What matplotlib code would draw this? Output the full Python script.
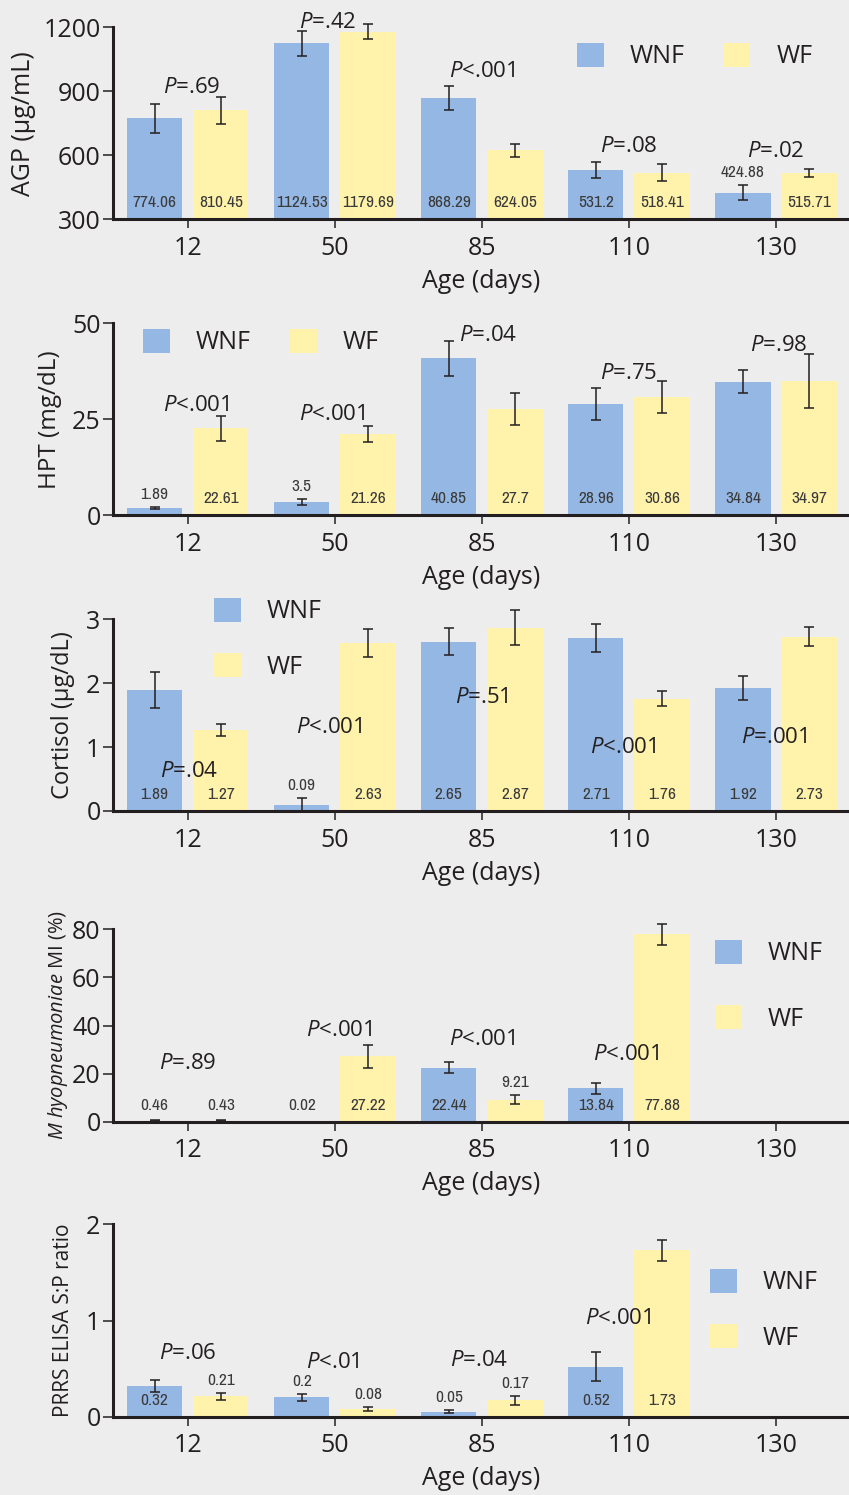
import matplotlib
matplotlib.use('Agg')
import matplotlib.pyplot as plt
from matplotlib.patches import Patch
from matplotlib import font_manager
import numpy as np

nan = np.nan

# ---------------- data ----------------
ages = ['12', '50', '85', '110', '130']
series_names = ['WNF', 'WF']

agp_wnf = [774.06, 1124.53, 868.29, 531.2, 424.88]
agp_wf = [810.45, 1179.69, 624.05, 518.41, 515.71]
agp_wnf_se = [68, 57, 55, 37, 35]
agp_wf_se = [62, 34, 31, 39, 19]
agp_p = ['=.69', '=.42', '<.001', '=.08', '=.02']

hpt_wnf = [1.89, 3.5, 40.85, 28.96, 34.84]
hpt_wf = [22.61, 21.26, 27.7, 30.86, 34.97]
hpt_wnf_se = [0.3, 0.8, 4.45, 4.1, 3.1]
hpt_wf_se = [3.25, 2.1, 4.2, 4.2, 7.1]
hpt_p = ['<.001', '<.001', '=.04', '=.75', '=.98']

cort_wnf = [1.89, 0.09, 2.65, 2.71, 1.92]
cort_wf = [1.27, 2.63, 2.87, 1.76, 2.73]
cort_wnf_se = [0.28, 0.11, 0.21, 0.22, 0.19]
cort_wf_se = [0.09, 0.22, 0.27, 0.12, 0.15]
cort_p = ['=.04', '<.001', '=.51', '<.001', '=.001']

mhyo_wnf = [0.46, 0.02, 22.44, 13.84, nan]
mhyo_wf = [0.43, 27.22, 9.21, 77.88, nan]
mhyo_wnf_se = [0.2, 0.0, 2.35, 2.35, nan]
mhyo_wf_se = [0.2, 4.7, 2.0, 4.5, nan]
mhyo_p = ['=.89', '<.001', '<.001', '<.001', None]

prrs_wnf = [0.32, 0.2, 0.05, 0.52, nan]
prrs_wf = [0.21, 0.08, 0.17, 1.73, nan]
prrs_wnf_se = [0.06, 0.035, 0.015, 0.15, nan]
prrs_wf_se = [0.035, 0.02, 0.05, 0.11, nan]
prrs_p = ['=.06', '<.01', '=.04', '<.001', None]

# ---------------- style ----------------
BG = '#ededed'
BLUE = '#95b7e3'
YELLOW = '#fff2aa'
INK = '#231f20'
VAL_INK = '#3a3a3a'

plt.rcParams['font.family'] = ['Open Sans', 'DejaVu Sans']
plt.rcParams['mathtext.fontset'] = 'custom'
plt.rcParams['mathtext.rm'] = 'Open Sans'
plt.rcParams['mathtext.it'] = 'Open Sans:italic'

# condensed font for the value labels, if one is installed
VAL_PROPS = dict(family=['Roboto', 'DejaVu Sans'], fontsize=11)
_fonts = font_manager.fontManager.ttflist
_narrow = [f for f in _fonts if ('Narrow' in f.name or 'Condensed' in f.name)
           and f.style == 'normal' and f.weight in (400, 'normal', 'regular')]
_cond = [f for f in _fonts if f.stretch in ('condensed', 'semi-condensed')
         and f.style == 'normal' and f.weight in (400, 'normal', 'regular')]
if _narrow:
    VAL_PROPS = dict(fontproperties=font_manager.FontProperties(fname=_narrow[0].fname, size=12.5))
elif _cond:
    VAL_PROPS = dict(fontproperties=font_manager.FontProperties(fname=_cond[0].fname, size=12.5))

W, H = 849, 1495
fig = plt.figure(figsize=(W / 100, H / 100), dpi=100, facecolor=BG)

AX_LEFT = 113.3

panels = [
    dict(wnf=agp_wnf, wf=agp_wf, wnf_se=agp_wnf_se, wf_se=agp_wf_se, p=agp_p,
         ylabel='AGP (μg/mL)', ylabel_size=18, ylabel_x=23,
         ylim=(300, 1200), yticks=[300, 600, 900, 1200],
         top=27.3, bottom=219.3,
         p_pos=[(0.03, 919), (-0.05, 1222), (0.0, 994), (0.0, 639), (0.0, 616)],
         leg=dict(ncol=2, ul=(576.7, 43), spacing=1.16)),
    dict(wnf=hpt_wnf, wf=hpt_wf, wnf_se=hpt_wnf_se, wf_se=hpt_wf_se, p=hpt_p,
         ylabel='HPT (mg/dL)', ylabel_size=17.5, ylabel_x=50,
         ylim=(0, 50), yticks=[0, 25, 50],
         top=323.3, bottom=515.3,
         p_pos=[(0.055, 28.5), (-0.02, 26.2), (0.04, 46.9), (0.0, 36.8), (0.02, 44.1)],
         leg=dict(ncol=2, ul=(143, 329), spacing=1.16)),
    dict(wnf=cort_wnf, wf=cort_wf, wnf_se=cort_wnf_se, wf_se=cort_wf_se, p=cort_p,
         ylabel='Cortisol (μg/dL)', ylabel_size=17, ylabel_x=63,
         ylim=(0, 3), yticks=[0, 1, 2, 3],
         top=619.3, bottom=811.0,
         p_pos=[(0.01, 0.625), (-0.04, 1.31), (0.0, 1.78), (-0.04, 0.995), (-0.01, 1.15)],
         leg=dict(ncol=1, ul=(214, 598), spacing=1.16)),
    dict(wnf=mhyo_wnf, wf=mhyo_wf, wnf_se=mhyo_wnf_se, wf_se=mhyo_wf_se, p=mhyo_p,
         ylabel=r'$\mathit{M}$ $\mathit{hyopneumoniae}$ MI (%)', ylabel_size=14.5, ylabel_x=58,
         ylim=(0, 80), yticks=[0, 20, 40, 60, 80],
         top=929.3, bottom=1121.7,
         p_pos=[(0.0, 24.3), (0.03, 38.1), (0.0, 34.0), (-0.02, 28.0), None],
         leg=dict(ncol=1, ul=(715, 940), spacing=1.56)),
    dict(wnf=prrs_wnf, wf=prrs_wf, wnf_se=prrs_wnf_se, wf_se=prrs_wf_se, p=prrs_p,
         ylabel='PRRS ELISA S:P ratio', ylabel_size=15, ylabel_x=63,
         ylim=(0, 2), yticks=[0, 1, 2],
         top=1224.3, bottom=1416.7,
         p_pos=[(0.0, 0.66), (-0.01, 0.56), (-0.02, 0.58), (-0.07, 1.02), None],
         leg=dict(ncol=1, ul=(710, 1269), spacing=1.16)),
]

BAR_W = 0.375
OFF = 0.225
x = np.arange(len(ages))
PX2PT = 72 / 100

for pn in panels:
    hpx = pn['bottom'] - pn['top']
    wpx = W - AX_LEFT
    ax = fig.add_axes([AX_LEFT / W, 1 - pn['bottom'] / H, wpx / W, hpx / H])
    ax.set_facecolor('none')
    ax.set_xlim(-0.506, 4.496)
    ax.set_ylim(*pn['ylim'])

    for vals, ses, off, col in [(pn['wnf'], pn['wnf_se'], -OFF, BLUE),
                                (pn['wf'], pn['wf_se'], OFF, YELLOW)]:
        vals = np.array(vals, dtype=float)
        ses = np.array(ses, dtype=float)
        ax.bar(x + off, vals, width=BAR_W, color=col, zorder=2, linewidth=0)
        eb = ax.errorbar(x + off, vals, yerr=ses, fmt='none', ecolor=INK,
                         elinewidth=1.1, capsize=3.6, capthick=1.1, zorder=3)
        for child in eb.get_children():
            child.set_clip_on(False)
        ymin = pn['ylim'][0]
        for xi, v, s in zip(x + off, vals, ses):
            if np.isnan(v):
                continue
            bar_px = ax.transData.transform((0, v))[1] - ax.transData.transform((0, ymin))[1]
            if bar_px >= 28:
                ax.annotate(f'{v:g}', xy=(xi, ymin), xytext=(0, 16.5 * PX2PT),
                            textcoords='offset points', ha='center', va='center',
                            color=VAL_INK, zorder=4, **VAL_PROPS)
            else:
                top = v + s
                top_px = ax.transData.transform((0, top))[1] - ax.transData.transform((0, ymin))[1]
                off_px = max(12.5, 16.5 - top_px)
                ax.annotate(f'{v:g}', xy=(xi, top), xytext=(0, off_px * PX2PT),
                            textcoords='offset points', ha='center', va='center',
                            color=VAL_INK, zorder=4, **VAL_PROPS)

    for i, (ptxt, pos) in enumerate(zip(pn['p'], pn['p_pos'])):
        if ptxt is None or pos is None:
            continue
        ax.text(i + pos[0], pos[1], r'$\mathit{P}$' + ptxt, ha='center', va='center',
                fontsize=16, color=INK, zorder=5, clip_on=False)

    # axes styling
    for s in ['top', 'right']:
        ax.spines[s].set_visible(False)
    for s in ['left', 'bottom']:
        ax.spines[s].set_linewidth(2.2)
        ax.spines[s].set_color(INK)
        ax.spines[s].set_zorder(6)
    ax.set_xticks(x)
    ax.set_xticklabels(ages)
    ax.set_yticks(pn['yticks'])
    ax.tick_params(axis='x', direction='out', length=6.5, width=1.1, colors=INK,
                   labelsize=18, pad=5.5)
    ax.tick_params(axis='y', direction='out', length=7.2, width=1.1, colors=INK,
                   labelsize=18, pad=2)

    ax.set_xlabel('Age (days)', fontsize=18, color=INK, va='center')
    ax.xaxis.set_label_coords(0.5, -62.2 / hpx)
    ax.set_ylabel(pn['ylabel'], fontsize=pn['ylabel_size'], color=INK, va='center')
    ax.yaxis.set_label_coords((pn['ylabel_x'] - AX_LEFT) / wpx, 0.5)

    lg = pn['leg']
    handles = [Patch(facecolor=BLUE, edgecolor='none'), Patch(facecolor=YELLOW, edgecolor='none')]
    ax.legend(handles, series_names, ncol=lg['ncol'], loc='upper left',
              bbox_to_anchor=((lg['ul'][0] - AX_LEFT) / wpx, (pn['bottom'] - lg['ul'][1]) / hpx),
              frameon=False, borderpad=0, borderaxespad=0, fontsize=18,
              handlelength=1.08, handleheight=1.08, handletextpad=1.04,
              columnspacing=1.55, labelspacing=lg['spacing'], labelcolor=INK)

fig.savefig('out.png', dpi=100, facecolor=BG)
